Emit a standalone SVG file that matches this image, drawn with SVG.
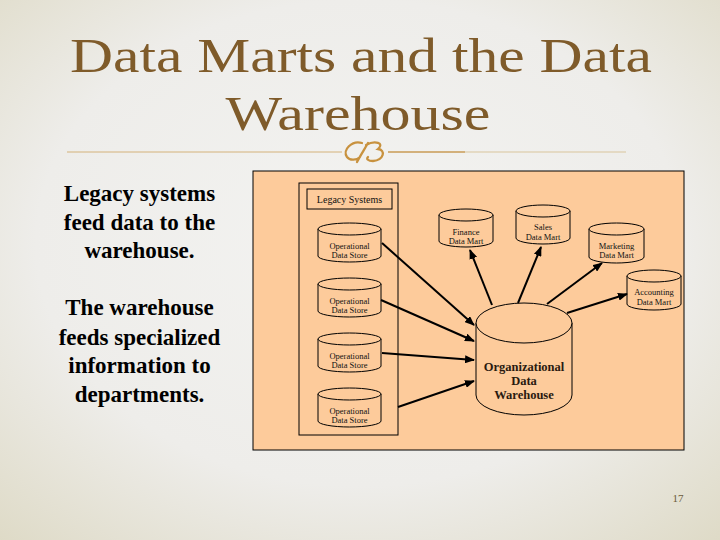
<svg xmlns="http://www.w3.org/2000/svg" width="720" height="540" viewBox="0 0 720 540">
<defs>
<radialGradient id="bg" cx="0.5" cy="0.45" r="0.75">
<stop offset="0" stop-color="#F3F3F1"/>
<stop offset="0.6" stop-color="#EEEDEA"/>
<stop offset="1" stop-color="#DEDAC6"/>
</radialGradient>
<marker id="ah" markerUnits="userSpaceOnUse" markerWidth="10" markerHeight="8" refX="9" refY="4" orient="auto">
<path d="M0,0 L10,4 L0,8 z" fill="#000"/>
</marker>
<style>
.title{font-family:"Liberation Serif",serif;font-size:48px;fill:#7F5B2A;text-anchor:middle}
.side{font-family:"Liberation Serif",serif;font-size:23px;font-weight:bold;fill:#000;text-anchor:middle}
.cyl{fill:#FDCB9B;stroke:#000;stroke-width:1}
.small{font-family:"Liberation Serif",serif;font-size:8.5px;fill:#111;text-anchor:middle}
.big{font-family:"Liberation Serif",serif;font-size:12.5px;font-weight:bold;fill:#2a1a10;text-anchor:middle}
.conn line{stroke:#000;stroke-width:2;marker-end:url(#ah)}
</style>
</defs>
<rect x="0" y="0" width="720" height="540" fill="url(#bg)"/>

<g id="title">
<text class="title" x="361" y="72" textLength="582" lengthAdjust="spacingAndGlyphs">Data Marts and the Data</text>
<text class="title" x="358" y="130" textLength="265" lengthAdjust="spacingAndGlyphs">Warehouse</text>
<line x1="67" y1="152" x2="342" y2="152" stroke="#D4B27A" stroke-width="1"/>
<line x1="388" y1="152" x2="465" y2="152" stroke="#C99B55" stroke-width="1.6"/>
<line x1="465" y1="152" x2="626" y2="152" stroke="#D9C59C" stroke-width="1"/>
<path d="M362,143 C352,140 342,150 347,157 C350,161 357,160 360,157 M368,143 C364,150 360,156 357,162 M366,145 C375,140 385,143 378,149 C386,150 384,160 373,161 C368,161 366,159 368,157" fill="none" stroke="#C8923F" stroke-width="2.3" stroke-linecap="round"/>
</g>

<g id="side-text">
<text class="side" x="139.5" y="201">Legacy systems</text>
<text class="side" x="139.5" y="230">feed data to the</text>
<text class="side" x="139.5" y="258">warehouse.</text>
<text class="side" x="139.5" y="315">The warehouse</text>
<text class="side" x="139.5" y="345">feeds specialized</text>
<text class="side" x="139.5" y="373">information to</text>
<text class="side" x="139.5" y="402">departments.</text>
</g>

<rect id="panel" x="253" y="171" width="431" height="279" fill="#FDCB9B" stroke="#000" stroke-width="1"/>

<g id="legacy-systems">
<rect x="299" y="183" width="99" height="252" fill="none" stroke="#000" stroke-width="1"/>
<rect x="307" y="189" width="85" height="20" fill="none" stroke="#000" stroke-width="1"/>
<text class="small" x="349.5" y="202.5" style="font-size:10px">Legacy Systems</text>
</g>

<g id="ods1">
<path class="cyl" d="M318,229 V256 A31.5,6 0 0 0 381,256 V229"/>
<ellipse class="cyl" cx="349.5" cy="229" rx="31.5" ry="6"/>
<text class="small" x="349.5" y="249">Operational</text>
<text class="small" x="349.5" y="258">Data Store</text>
</g>
<g id="ods2">
<path class="cyl" d="M318,284 V311 A31.5,6 0 0 0 381,311 V284"/>
<ellipse class="cyl" cx="349.5" cy="284" rx="31.5" ry="6"/>
<text class="small" x="349.5" y="304">Operational</text>
<text class="small" x="349.5" y="313">Data Store</text>
</g>
<g id="ods3">
<path class="cyl" d="M318,339 V366 A31.5,6 0 0 0 381,366 V339"/>
<ellipse class="cyl" cx="349.5" cy="339" rx="31.5" ry="6"/>
<text class="small" x="349.5" y="359">Operational</text>
<text class="small" x="349.5" y="368">Data Store</text>
</g>
<g id="ods4">
<path class="cyl" d="M318,394 V421 A31.5,6 0 0 0 381,421 V394"/>
<ellipse class="cyl" cx="349.5" cy="394" rx="31.5" ry="6"/>
<text class="small" x="349.5" y="414">Operational</text>
<text class="small" x="349.5" y="423">Data Store</text>
</g>

<g id="finance">
<path class="cyl" d="M439,215 V241 A27,6 0 0 0 493,241 V215"/>
<ellipse class="cyl" cx="466" cy="215" rx="27" ry="6"/>
<text class="small" x="466" y="235">Finance</text>
<text class="small" x="466" y="244">Data Mart</text>
</g>
<g id="sales">
<path class="cyl" d="M516,211 V238 A27,6 0 0 0 570,238 V211"/>
<ellipse class="cyl" cx="543" cy="211" rx="27" ry="6"/>
<text class="small" x="543" y="230">Sales</text>
<text class="small" x="543" y="240">Data Mart</text>
</g>
<g id="marketing">
<path class="cyl" d="M589,229 V257 A27.5,6 0 0 0 644,257 V229"/>
<ellipse class="cyl" cx="616.5" cy="229" rx="27.5" ry="6"/>
<text class="small" x="616.5" y="249">Marketing</text>
<text class="small" x="616.5" y="258">Data Mart</text>
</g>
<g id="accounting">
<path class="cyl" d="M627,276 V304 A27,6 0 0 0 681,304 V276"/>
<ellipse class="cyl" cx="654" cy="276" rx="27" ry="6"/>
<text class="small" x="654" y="295">Accounting</text>
<text class="small" x="654" y="305">Data Mart</text>
</g>

<g id="warehouse">
<path class="cyl" d="M476,323 V395 A48,20 0 0 0 572,395 V323"/>
<ellipse class="cyl" cx="524" cy="323" rx="48" ry="20"/>
<text class="big" x="524" y="371">Organizational</text>
<text class="big" x="524" y="385">Data</text>
<text class="big" x="524" y="399">Warehouse</text>
</g>

<g id="connectors" class="conn">
<line x1="382" y1="243" x2="474" y2="325"/>
<line x1="381" y1="300" x2="474" y2="341"/>
<line x1="382" y1="353" x2="474" y2="360"/>
<line x1="398" y1="407" x2="474" y2="381"/>
<line x1="492" y1="305" x2="470" y2="250"/>
<line x1="518" y1="303" x2="541" y2="247"/>
<line x1="547" y1="304" x2="602" y2="263"/>
<line x1="567" y1="313" x2="627" y2="294"/>
</g>

<text id="page" x="678" y="502" font-family="Liberation Serif, serif" font-size="11" fill="#6B5B3B" text-anchor="middle">17</text>
</svg>
